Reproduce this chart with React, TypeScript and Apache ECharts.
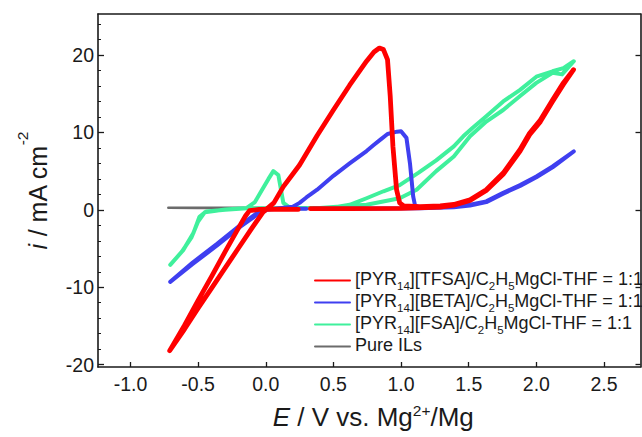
import React, { useEffect, useRef } from 'react';
import * as echarts from 'echarts';

const FONT = 'Arial, "Liberation Sans", Helvetica, sans-serif';
const INK = '#1a1a1a';

// Legend / series labels
const seriesNames = [
  '[PYR14][TFSA]/C2H5MgCl-THF = 1:1',
  '[PYR14][BETA]/C2H5MgCl-THF = 1:1',
  '[PYR14][FSA]/C2H5MgCl-THF = 1:1',
  'Pure ILs',
];
const legendRichLabels = [
  '{m|[PYR}{s|14}{m|][TFSA]/C}{s|2}{m|H}{s|5}{m|MgCl-THF = 1:1}',
  '{m|[PYR}{s|14}{m|][BETA]/C}{s|2}{m|H}{s|5}{m|MgCl-THF = 1:1}',
  '{m|[PYR}{s|14}{m|][FSA]/C}{s|2}{m|H}{s|5}{m|MgCl-THF = 1:1}',
  '{m|Pure ILs}{s| }',
];
const seriesColors = ['#ff0000', '#3f3ff0', '#3ff09c', '#6b6b6b'];
const seriesWidths = [4.8, 4, 4, 2.6];

// Cyclic voltammograms: [E (V vs Mg2+/Mg), i (mA cm^-2)]
const tfsaCurve: number[][] = [
  [0.24, 0.05], [0.1, 0.1], [-0.05, 0.05], [-0.12, -0.1], [-0.15, -0.8], [-0.2, -2.3],
  [-0.3, -5.4], [-0.4, -8.6], [-0.5, -11.7], [-0.6, -14.9], [-0.71, -18.2],
  [-0.6, -15.4], [-0.5, -12.7], [-0.4, -10.1], [-0.3, -7.5], [-0.2, -4.9], [-0.1, -2.3],
  [-0.02, -0.3], [0.06, 0.9], [0.13, 3.0], [0.25, 5.8], [0.38, 9.6], [0.5, 12.9],
  [0.62, 16.1], [0.745, 19.2], [0.8, 20.4], [0.84, 20.9], [0.87, 20.7], [0.9, 19.4],
  [0.92, 14.7], [0.94, 8.2], [0.967, 2.6], [0.99, 0.9], [1.02, 0.5], [1.14, 0.4],
  [1.29, 0.5], [1.39, 0.7], [1.51, 1.3], [1.63, 2.6], [1.755, 4.75], [1.88, 7.8],
  [1.95, 9.9], [2.03, 11.6], [2.12, 14.2], [2.2, 16.4], [2.275, 18.1],
  [2.2, 16.2], [2.12, 14.0], [2.03, 11.4], [1.95, 9.7], [1.88, 7.6], [1.755, 4.6],
  [1.63, 2.5], [1.51, 1.2], [1.39, 0.6], [1.29, 0.35], [1.0, 0.2], [0.6, 0.15], [0.33, 0.15],
];
const betaCurve: number[][] = [
  [0.3, 0.15], [0.1, 0.15], [0.0, 0.05], [-0.07, -0.5], [-0.19, -2.0], [-0.36, -4.4],
  [-0.54, -6.8], [-0.706, -9.3],
  [-0.54, -7.0], [-0.36, -4.6], [-0.19, -2.2], [-0.066, -0.65], [0.007, 0.0], [0.1, 0.2],
  [0.2, 0.4], [0.25, 0.9], [0.3, 1.6], [0.38, 2.6], [0.5, 4.4], [0.62, 6.0], [0.745, 7.6],
  [0.8, 8.4], [0.85, 9.1], [0.9, 9.8], [0.97, 10.1], [1.0, 10.15], [1.04, 9.3], [1.066, 6.0],
  [1.09, 1.7], [1.103, 0.6], [1.14, 0.25], [1.39, 0.43], [1.51, 0.65], [1.63, 1.1],
  [1.755, 2.2], [1.88, 3.2], [2.0, 4.3], [2.12, 5.6], [2.277, 7.54],
  [2.12, 5.5], [2.0, 4.2], [1.88, 3.1], [1.755, 2.1], [1.63, 1.0], [1.51, 0.55],
  [1.39, 0.35], [1.14, 0.2], [0.6, 0.15], [0.35, 0.15],
];
const fsaCurve: number[][] = [
  [0.3, 0.2], [0.1, 0.2], [-0.14, 0.2], [-0.3, 0.0], [-0.44, -0.2], [-0.49, -0.9],
  [-0.535, -3.0], [-0.61, -5.2], [-0.706, -7.1],
  [-0.62, -5.4], [-0.55, -3.6], [-0.5, -1.5], [-0.45, -0.3], [-0.3, 0.05], [-0.14, 0.25],
  [-0.08, 1.0], [-0.04, 2.2], [0.02, 4.0], [0.056, 5.0], [0.093, 4.5], [0.13, 0.9],
  [0.18, 0.25], [0.4, 0.25], [0.6, 0.5], [0.745, 0.65], [0.99, 1.5], [1.115, 2.6],
  [1.26, 5.0], [1.39, 6.9], [1.51, 9.5], [1.63, 11.4], [1.755, 12.9], [1.88, 14.7],
  [2.0, 16.4], [2.12, 17.7], [2.19, 17.5], [2.277, 19.2],
  [2.2, 18.3], [2.12, 17.9], [2.0, 17.2], [1.88, 15.5], [1.755, 14.0], [1.63, 12.1],
  [1.53, 10.6], [1.46, 9.5], [1.39, 8.2], [1.26, 6.4], [1.13, 4.8], [0.99, 3.2],
  [0.87, 2.4], [0.745, 1.5], [0.62, 0.65], [0.5, 0.3], [0.35, 0.25],
];
const pureCurve: number[][] = [
  [-0.72, 0.28], [-0.5, 0.25], [-0.2, 0.25], [0.1, 0.22], [0.3, 0.22],
];

const curves = [tfsaCurve, betaCurve, fsaCurve, pureCurve];
const drawOrder = [3, 2, 1, 0];

// Axes
const xRange = [-1.24, 2.77];
const yRange = [-20.3, 25.3];
const xTickValues = [-1, -0.5, 0, 0.5, 1, 1.5, 2, 2.5];
const yTickValues = [-20, -10, 0, 10, 20];
const yMinorTickValues = [-18, -16, -14, -12, -8, -6, -4, -2, 2, 4, 6, 8, 12, 14, 16, 18, 22, 24];

export default function App() {
  const ref = useRef<HTMLDivElement>(null);

  useEffect(() => {
    if (!ref.current) return;
    const chart = echarts.init(ref.current, null, { renderer: 'svg' });

    const titleRich = (size: number, supPad: number) => ({
      it: { fontSize: size, fontFamily: FONT, fontStyle: 'italic', color: INK, verticalAlign: 'bottom' },
      n: { fontSize: size, fontFamily: FONT, color: INK, verticalAlign: 'bottom' },
      sup: { fontSize: 15.5, fontFamily: FONT, color: INK, verticalAlign: 'top', padding: [0, 0, supPad, 0] },
    });

    const baseY = {
      type: 'value',
      min: yRange[0],
      max: yRange[1],
      splitLine: { show: false },
    };

    const option: any = {
      animation: false,
      backgroundColor: '#ffffff',
      grid: { left: 98, right: 1.5, top: 14, bottom: 70, containLabel: false },
      legend: {
        show: true,
        orient: 'vertical',
        left: 314,
        top: 269.5,
        padding: 0,
        itemGap: 0,
        itemWidth: 35,
        itemHeight: 14,
        selectedMode: false,
        data: seriesNames,
        itemStyle: { opacity: 0, color: 'rgba(0,0,0,0)', borderWidth: 0 },
        formatter: (name: string) => legendRichLabels[seriesNames.indexOf(name)],
        textStyle: {
          fontSize: 18,
          fontFamily: FONT,
          color: INK,
          rich: {
            m: { fontSize: 18, fontFamily: FONT, color: INK, verticalAlign: 'top', lineHeight: 17 },
            s: { fontSize: 11.5, fontFamily: FONT, color: INK, verticalAlign: 'bottom', lineHeight: 22 },
          },
        },
      },
      xAxis: [
        {
          type: 'value',
          position: 'bottom',
          min: xRange[0],
          max: xRange[1],
          splitLine: { show: false },
          axisLine: { show: true, onZero: false, lineStyle: { color: INK, width: 1.6 } },
          axisTick: { show: true, inside: true, length: 5, customValues: xTickValues, lineStyle: { color: INK, width: 1.3 } },
          axisLabel: {
            customValues: xTickValues,
            formatter: (v: number) => v.toFixed(1),
            fontSize: 19.5,
            fontFamily: FONT,
            color: INK,
            margin: 7,
          },
          name: '{it|E}{n| / V vs. Mg}{sup|2+}{n|/Mg}',
          nameLocation: 'middle',
          nameGap: 35,
          nameTextStyle: { rich: titleRich(26, 12), padding: [0, 0, 0, 8] },
        },
        {
          type: 'value',
          position: 'top',
          min: xRange[0],
          max: xRange[1],
          splitLine: { show: false },
          axisLine: { show: true, onZero: false, lineStyle: { color: INK, width: 1.6 } },
          axisTick: { show: false },
          axisLabel: { show: false },
        },
      ],
      yAxis: [
        {
          ...baseY,
          position: 'left',
          axisLine: { show: true, onZero: false, lineStyle: { color: INK, width: 1.6 } },
          axisTick: { show: true, inside: true, length: 6, customValues: yTickValues, lineStyle: { color: INK, width: 1.3 } },
          axisLabel: { customValues: yTickValues, fontSize: 19.5, fontFamily: FONT, color: INK, margin: 4 },
          name: '{it|i}{n| / mA cm}{sup|-2}',
          nameLocation: 'middle',
          nameGap: 48,
          nameTextStyle: { rich: titleRich(25, 20) },
        },
        {
          ...baseY,
          position: 'left',
          axisLine: { show: false, onZero: false },
          axisTick: { show: true, inside: true, length: 3, customValues: yMinorTickValues, lineStyle: { color: INK, width: 1 } },
          axisLabel: { show: false },
        },
        {
          ...baseY,
          position: 'right',
          axisLine: { show: true, onZero: false, lineStyle: { color: INK, width: 1.6 } },
          axisTick: { show: true, inside: true, length: 5, customValues: yTickValues, lineStyle: { color: INK, width: 1.3 } },
          axisLabel: { show: false },
        },
      ],
      series: drawOrder.map((k) => ({
        name: seriesNames[k],
        type: 'line',
        xAxisIndex: 0,
        yAxisIndex: 0,
        data: curves[k],
        symbol: 'none',
        showSymbol: false,
        smooth: false,
        z: 2 + (3 - k),
        lineStyle: { color: seriesColors[k], width: seriesWidths[k], cap: 'round', join: 'round' },
        itemStyle: { color: seriesColors[k] },
      })),
    };

    chart.setOption(option);
    return () => chart.dispose();
  }, []);

  return (
    <div
      ref={ref}
      style={{ position: 'fixed', left: 0, top: 0, width: 642, height: 437, background: '#fff' }}
    />
  );
}
